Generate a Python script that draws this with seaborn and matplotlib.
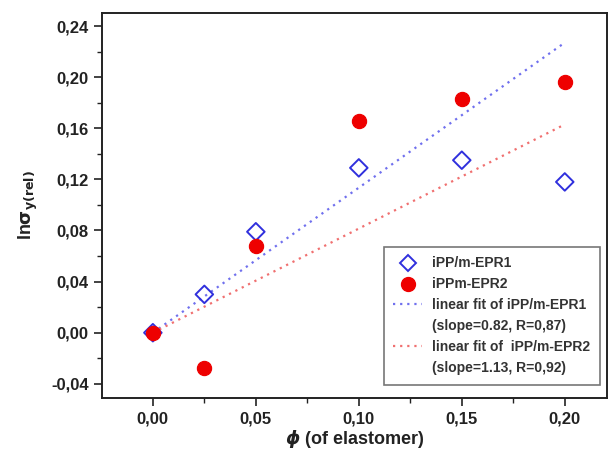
import numpy as np
import pandas as pd
import matplotlib
matplotlib.use("Agg")
import matplotlib.pyplot as plt
from matplotlib.lines import Line2D
from matplotlib.ticker import MultipleLocator, FuncFormatter
import seaborn as sns

# data
phi = [0.0, 0.025, 0.05, 0.10, 0.15, 0.20]
epr1 = [0.0, 0.030, 0.079, 0.129, 0.135, 0.118]
epr2 = [0.0, -0.028, 0.068, 0.166, 0.183, 0.196]
fit_x = [0.0, 0.20]
fit1_slope = 1.135   # blue dotted line
fit2_slope = 0.815   # red dotted line
labels = ["iPP/m-EPR1", "iPPm-EPR2",
          "linear fit of iPP/m-EPR1", "(slope=0.82, R=0,87)",
          "linear fit of  iPP/m-EPR2", "(slope=1.13, R=0,92)"]

sns.set_theme(style="white")
plt.rcParams['font.family'] = ['Liberation Sans', 'DejaVu Sans']
plt.rcParams['font.weight'] = 'bold'

fig = plt.figure(figsize=(6.08, 4.5), dpi=100)
ax = fig.add_axes([102/608, 52/450, 505/608, 385/450])

df1 = pd.DataFrame({"x": fit_x, "y": [fit1_slope * v for v in fit_x]})
df2 = pd.DataFrame({"x": fit_x, "y": [fit2_slope * v for v in fit_x]})
sns.lineplot(data=df1, x="x", y="y", ax=ax, color="#7070ee", linestyle=(0, (1, 2.2)), linewidth=1.6)
sns.lineplot(data=df2, x="x", y="y", ax=ax, color="#f07070", linestyle=(0, (1, 2.2)), linewidth=1.6)

d2 = pd.DataFrame({"x": phi, "y": epr2})
d1 = pd.DataFrame({"x": phi, "y": epr1})
sns.scatterplot(data=d1, x="x", y="y", ax=ax, marker="D", s=80, facecolor="none", edgecolor="#3030dd", linewidth=1.4, zorder=3)
sns.scatterplot(data=d2, x="x", y="y", ax=ax, marker="o", s=105, color="#ee0000", edgecolor="#ee0000", zorder=4)

ax.set_xlim(-0.0247, 0.2205)
ax.set_ylim(-0.0511, 0.2502)
ax.xaxis.set_major_locator(MultipleLocator(0.05))
ax.xaxis.set_minor_locator(MultipleLocator(0.025))
ax.yaxis.set_major_locator(MultipleLocator(0.04))
ax.yaxis.set_minor_locator(MultipleLocator(0.02))
fmt = lambda d: FuncFormatter(lambda v, p: (f"{v:.{d}f}").replace(".", ",").replace("-0,00", "0,00"))
ax.xaxis.set_major_formatter(fmt(2))
ax.yaxis.set_major_formatter(fmt(2))
ax.tick_params(axis="both", which="major", direction="out", length=6, width=1.2,
               labelsize=12, color="#222222", labelcolor="#222222", bottom=True, left=True)
ax.tick_params(axis="both", which="minor", direction="out", length=3.5, width=1.0,
               color="#222222", bottom=True, left=True)
for lab in ax.get_xticklabels() + ax.get_yticklabels():
    lab.set_fontweight("bold")
for s in ax.spines.values():
    s.set_color("#222222")
    s.set_linewidth(1.4)

ax.set_xlabel(r"$\phi$ (of elastomer)", fontsize=13, fontweight="bold", color="#222222", labelpad=1)
ax.set_ylabel(r"ln$\mathbf{\sigma}_{\mathbf{y(rel)}}$", fontsize=13, fontweight="bold", color="#222222", labelpad=8)

handles = [
    Line2D([], [], marker="D", linestyle="none", markerfacecolor="none", markeredgecolor="#3030dd", markersize=8, markeredgewidth=1.4),
    Line2D([], [], marker="o", linestyle="none", color="#ee0000", markersize=10),
    Line2D([], [], color="#7070ee", linestyle=(0, (1, 2.2)), linewidth=1.6),
    Line2D([], [], color="none"),
    Line2D([], [], color="#f07070", linestyle=(0, (1, 2.2)), linewidth=1.6),
    Line2D([], [], color="none"),
]
leg = ax.legend(handles, labels, loc="lower right", bbox_to_anchor=(0.986, 0.034),
                borderaxespad=0.0,
                frameon=True, fancybox=False, edgecolor="#555555", fontsize=10,
                handlelength=2.1, labelspacing=0.5, borderpad=0.7, handletextpad=0.7)
leg.get_frame().set_linewidth(1.2)
for t in leg.get_texts():
    t.set_fontweight("bold")
    t.set_color("#333333")

fig.savefig("out.png", dpi=100)
